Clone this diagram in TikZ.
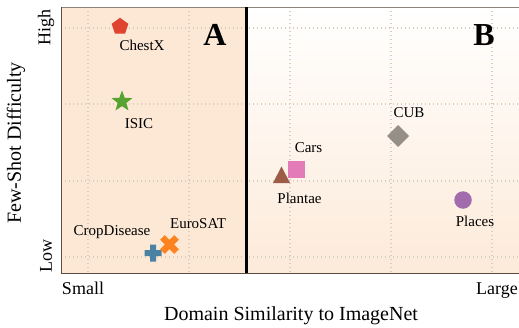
\documentclass[tikz,border=0pt]{standalone}
\usepackage{fontspec}
\setmainfont{Liberation Serif}
\usetikzlibrary{shapes.geometric,calc}
\definecolor{peach}{HTML}{FCE8D5}
\definecolor{gridc}{HTML}{D8CDC1}
\definecolor{spinec}{HTML}{5A4C40}
\definecolor{cred}{HTML}{DE4430}
\definecolor{cgreen}{HTML}{57A331}
\definecolor{cblue}{HTML}{4A82A4}
\definecolor{corange}{HTML}{FC8320}
\definecolor{cbrown}{HTML}{9C5C48}
\definecolor{cpink}{HTML}{E27BB8}
\definecolor{cgray}{HTML}{958F87}
\definecolor{cpurple}{HTML}{A16BAC}
\tikzset{
  lbl/.style={inner sep=0pt, font=\fontsize{15}{18}\selectfont},
  ticklbl/.style={inner sep=0pt, font=\fontsize{18}{21}\selectfont},
  titlelbl/.style={inner sep=0pt, font=\fontsize{20}{24}\selectfont},
  panellbl/.style={inner sep=0pt, font=\fontsize{32}{36}\selectfont\bfseries},
  gridline/.style={gridc, line width=1.1pt, dash pattern=on 1.4pt off 2.6pt},
  mk/.style={inner sep=0pt, outer sep=0pt, draw=none}
}
\begin{document}
\begin{tikzpicture}[x=1pt,y=-1pt]
\useasboundingbox (0,0) rectangle (519,327);
% backgrounds
\fill[peach] (61,7) rectangle (246.5,273);
\shade[top color=white, bottom color=peach!90!white] (246.5,7) rectangle (519,273);
% grid
\foreach \gx in {88,189,290,391,492} \draw[gridline] (\gx,7) -- (\gx,273);
\foreach \gy in {28,104,181,257} \draw[gridline] (61,\gy) -- (519,\gy);
% spines
\draw[spinec!70!white, line width=0.8pt] (61,7) -- (519,7);
\draw[spinec, line width=0.8pt] (61,7) -- (61,273) -- (519,273);
% divider
\draw[black, line width=3pt] (246.5,7) -- (246.5,273);
% panel labels
\node[panellbl] (pA) at (215,35) {A};
\node[panellbl] (pB) at (484,35) {B};
% markers
\node[mk, regular polygon, regular polygon sides=5, minimum size=17.5pt, fill=cred] (chestx) at (120,26.5) {};
\node[mk, star, star points=5, star point ratio=2.4, minimum size=22pt, fill=cgreen] (isic) at (122,101.5) {};
\coordinate (crop) at (153,253);
\fill[cblue, shift={(crop)}] (-3,-8.5) -- (3,-8.5) -- (3,-3) -- (8.5,-3) -- (8.5,3) -- (3,3) -- (3,8.5) -- (-3,8.5) -- (-3,3) -- (-8.5,3) -- (-8.5,-3) -- (-3,-3) -- cycle;
\coordinate (euro) at (169.5,244.5);
\fill[corange, shift={(euro)}, rotate=45] (-3.2,-10) -- (3.2,-10) -- (3.2,-3.2) -- (10,-3.2) -- (10,3.2) -- (3.2,3.2) -- (3.2,10) -- (-3.2,10) -- (-3.2,3.2) -- (-10,3.2) -- (-10,-3.2) -- (-3.2,-3.2) -- cycle;
\coordinate (plantae) at (281.5,175);
\fill[cbrown, shift={(plantae)}] (0,-8.5) -- (8.5,8) -- (-8.5,8) -- cycle;
\node[mk, rectangle, minimum size=17pt, fill=cpink] (cars) at (296.5,169.5) {};
\node[mk, diamond, minimum size=22pt, fill=cgray] (cub) at (398,136) {};
\node[mk, circle, minimum size=17.5pt, fill=cpurple] (places) at (463,200) {};
% labels
\node[lbl] (tchestx) at (142,45) {ChestX};
\node[lbl] (tisic) at (139,124) {ISIC};
\node[lbl] (tcrop) at (112,232) {CropDisease};
\node[lbl] (teuro) at (198,224) {EuroSAT};
\node[lbl] (tplantae) at (299.5,198.5) {Plantae};
\node[lbl] (tcars) at (308.5,148) {Cars};
\node[lbl] (tcub) at (409,113) {CUB};
\node[lbl] (tplaces) at (475,221) {Places};
% ticks
\node[ticklbl, rotate=90] (thigh) at (46,27) {High};
\node[ticklbl, rotate=90] (tlow) at (46,256) {Low};
\node[ticklbl, anchor=base] (tsmall) at (83,294) {Small};
\node[ticklbl, anchor=base east] (tlarge) at (518,294) {Large};
% titles
\node[titlelbl] (xtitle) at (291,316) {Domain Similarity to ImageNet};
\node[titlelbl, rotate=90] (ytitle) at (16,143) {Few-Shot Difficulty};
\end{tikzpicture}
\end{document}
